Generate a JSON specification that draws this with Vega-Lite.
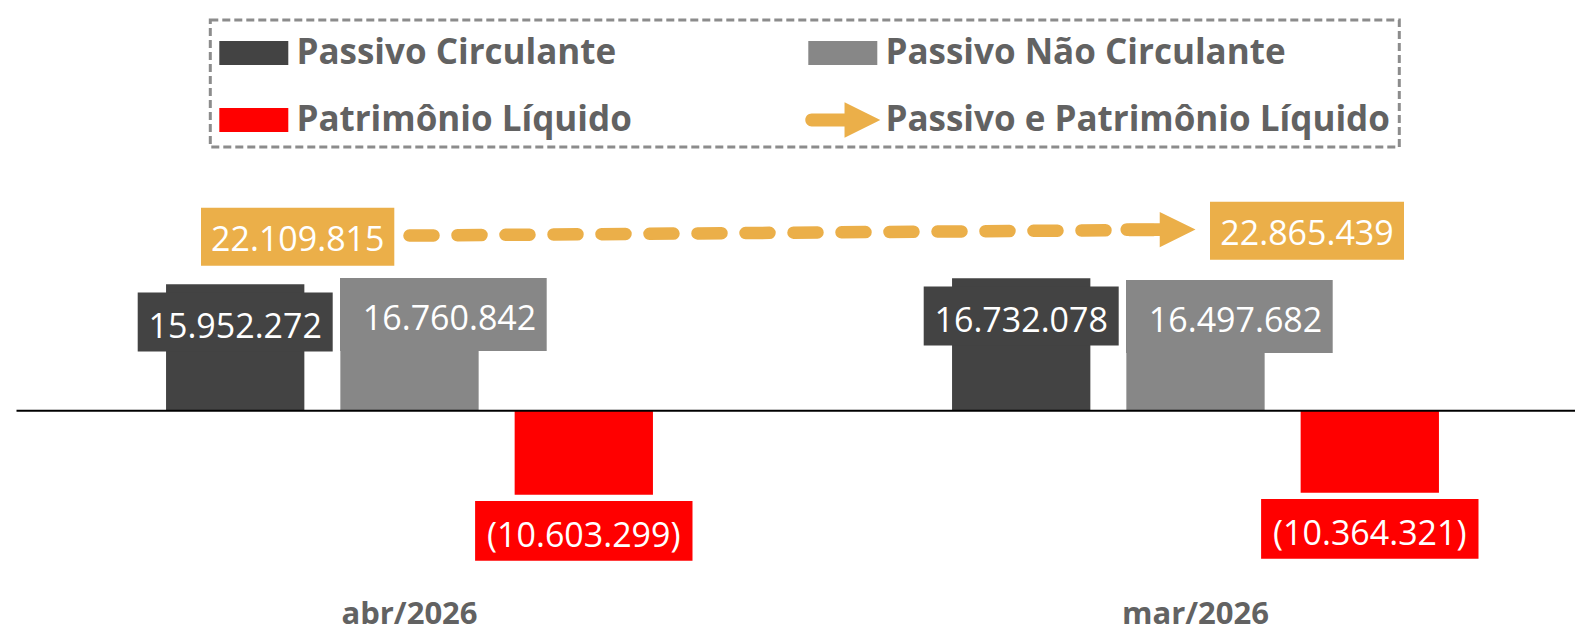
{
  "$schema": "https://vega.github.io/schema/vega-lite/v6.json",
  "width": 1558.5,
  "height": 590,
  "autosize": {"type": "none"},
  "padding": {"left": 16.5, "top": 0, "right": 0, "bottom": 37},
  "background": "white",
  "config": {
    "view": {"stroke": null},
    "locale": {"number": {"decimal": ",", "thousands": ".", "grouping": [3], "currency": ["R$", ""]}},
    "legend": {
      "orient": "none",
      "direction": "horizontal",
      "legendX": 193.8,
      "legendY": 20,
      "columns": 2,
      "columnPadding": 172,
      "rowPadding": 25,
      "padding": 9,
      "symbolSize": 2304,
      "symbolOffset": 10.5,
      "symbolStrokeWidth": 0,
      "symbolOpacity": 1,
      "labelFont": "Open Sans",
      "labelFontSize": 35,
      "labelFontWeight": "bold",
      "labelColor": "#626262",
      "labelOffset": 18.6,
      "labelLimit": 1000,
      "strokeColor": "#8C8C8C",
      "strokeDash": [8, 4],
      "strokeWidth": 3
    }
  },
  "data": {
    "values": [
      {"periodo": "abr/2026", "serie": "Passivo Circulante", "valor": 15952272},
      {"periodo": "abr/2026", "serie": "Passivo Não Circulante", "valor": 16760842},
      {"periodo": "abr/2026", "serie": "Patrimônio Líquido", "valor": -10603299},
      {"periodo": "abr/2026", "serie": "Passivo e Patrimônio Líquido", "valor": 22109815},
      {"periodo": "mar/2026", "serie": "Passivo Circulante", "valor": 16732078},
      {"periodo": "mar/2026", "serie": "Passivo Não Circulante", "valor": 16497682},
      {"periodo": "mar/2026", "serie": "Patrimônio Líquido", "valor": -10364321},
      {"periodo": "mar/2026", "serie": "Passivo e Patrimônio Líquido", "valor": 22865439}
    ]
  },
  "layer": [
    {
      "encoding": {
        "x": {
          "field": "periodo", "type": "nominal", "sort": ["abr/2026", "mar/2026"],
          "scale": {"domain": ["abr/2026", "mar/2026"], "range": [0, 1572], "paddingInner": 0, "paddingOuter": 0},
          "axis": {"title": null, "orient": "bottom", "domain": false, "ticks": false, "labelFont": "Open Sans", "labelFontSize": 31, "labelFontWeight": "bold", "labelColor": "#626262", "labelPadding": 9, "labelAngle": 0}
        },
        "y": {
          "field": "valor", "type": "quantitative", "stack": null,
          "scale": {"domain": [-22639000, 51856000], "nice": false, "zero": false},
          "axis": null
        }
      },
      "layer": [
        {
          "transform": [{"filter": "datum.serie !== 'Passivo e Patrimônio Líquido'"}],
          "mark": {"type": "bar"},
          "encoding": {
            "xOffset": {"field": "serie", "type": "nominal", "scale": {"domain": ["Passivo Circulante", "Passivo Não Circulante", "Patrimônio Líquido"], "paddingInner": 0.2065, "paddingOuter": 0.858}},
            "color": {
              "field": "serie", "type": "nominal",
              "scale": {"domain": ["Passivo Circulante", "Passivo Não Circulante", "Patrimônio Líquido", "Passivo e Patrimônio Líquido"], "range": ["#434343", "#878787", "#FF0000", "#EBAF49"]},
              "legend": {"title": null}
            }
          }
        },
        {
          "transform": [{"filter": "datum.serie === 'Passivo e Patrimônio Líquido'"}],
          "mark": {"type": "line", "color": "#EBAF49", "strokeWidth": 12.5, "strokeCap": "round", "strokeDash": [24,24,24,24,24,24,24,24,24,24,24,24,24,24,24,24,24,24,24,24,24,24,24,24,24,24,24,24,24,24,24,200]}
        },
        {
          "transform": [{"filter": "datum.serie === 'Passivo e Patrimônio Líquido' && datum.periodo === 'mar/2026'"}],
          "mark": {"type": "point", "filled": true, "opacity": 1, "size": 2304, "strokeWidth": 0, "xOffset": -37.5},
          "encoding": {
            "color": {
              "field": "serie", "type": "nominal",
              "scale": {"domain": ["Passivo Circulante", "Passivo Não Circulante", "Patrimônio Líquido", "Passivo e Patrimônio Líquido"], "range": ["#434343", "#878787", "#FF0000", "#EBAF49"]},
              "legend": {"title": null}
            },
            "shape": {
              "field": "serie", "type": "nominal",
              "scale": {"domain": ["Passivo Circulante", "Passivo Não Circulante", "Patrimônio Líquido", "Passivo e Patrimônio Líquido"], "range": ["M-1.4375,-0.5H1.4375V0.5H-1.4375Z", "M-1.4375,-0.5H1.4375V0.5H-1.4375Z", "M-1.4375,-0.5H1.4375V0.5H-1.4375Z", "M-1.297,-0.266H0.144V0.266H-1.297A0.266,0.266 0 0 1 -1.297,-0.266ZM0.072,-0.736L1.5625,0L0.072,0.736Z"]},
              "legend": {"title": null}
            }
          }
        },
        {
          "transform": [{"filter": "datum.serie === 'Passivo Circulante'"}],
          "mark": {"type": "point", "filled": true, "opacity": 1, "size": 40000, "strokeWidth": 0, "color": "#434343", "shape": "M-0.975,0.082H0.975V0.672H-0.975Z"},
          "encoding": {"xOffset": {"field": "serie", "type": "nominal"}}
        },
        {
          "transform": [{"filter": "datum.serie === 'Passivo Não Circulante'"}],
          "mark": {"type": "point", "filled": true, "opacity": 1, "size": 40000, "strokeWidth": 0, "color": "#878787", "shape": "M-0.695,0H1.372V0.73H-0.695Z"},
          "encoding": {"xOffset": {"field": "serie", "type": "nominal"}}
        },
        {
          "transform": [{"filter": "datum.serie === 'Patrimônio Líquido'"}],
          "mark": {"type": "point", "filled": true, "opacity": 1, "size": 40000, "strokeWidth": 0, "color": "#FF0000", "shape": "M-1.087,0.062H1.087V0.66H-1.087Z"},
          "encoding": {"xOffset": {"field": "serie", "type": "nominal"}}
        },
        {
          "transform": [{"filter": "datum.serie === 'Passivo e Patrimônio Líquido' && datum.periodo === 'abr/2026'"}],
          "mark": {"type": "point", "filled": true, "opacity": 1, "size": 40000, "strokeWidth": 0, "color": "#EBAF49", "shape": "M-2.085,-0.279H-0.152V0.302H-2.085Z"}
        },
        {
          "transform": [{"filter": "datum.serie === 'Passivo e Patrimônio Líquido' && datum.periodo === 'mar/2026'"}],
          "mark": {"type": "point", "filled": true, "opacity": 1, "size": 40000, "strokeWidth": 0, "color": "#EBAF49", "shape": "M0.145,-0.279H2.085V0.302H0.145Z"}
        },
        {
          "transform": [{"filter": "datum.serie === 'Passivo Circulante'"}],
          "mark": {"type": "text", "font": "Open Sans", "fontSize": 34, "color": "white", "align": "center", "baseline": "alphabetic", "dy": 53.5},
          "encoding": {"xOffset": {"field": "serie", "type": "nominal"}, "text": {"field": "valor", "type": "quantitative", "format": "(,.0f"}}
        },
        {
          "transform": [{"filter": "datum.serie === 'Passivo Não Circulante'"}],
          "mark": {"type": "text", "font": "Open Sans", "fontSize": 34, "color": "white", "align": "center", "baseline": "alphabetic", "dy": 52, "dx": 40},
          "encoding": {"xOffset": {"field": "serie", "type": "nominal"}, "text": {"field": "valor", "type": "quantitative", "format": "(,.0f"}}
        },
        {
          "transform": [{"filter": "datum.serie === 'Patrimônio Líquido'"}],
          "mark": {"type": "text", "font": "Open Sans", "fontSize": 34, "color": "white", "align": "center", "baseline": "alphabetic", "dy": 52},
          "encoding": {"xOffset": {"field": "serie", "type": "nominal"}, "text": {"field": "valor", "type": "quantitative", "format": "(,.0f"}}
        },
        {
          "transform": [{"filter": "datum.serie === 'Passivo e Patrimônio Líquido' && datum.periodo === 'abr/2026'"}],
          "mark": {"type": "text", "font": "Open Sans", "fontSize": 34, "color": "white", "align": "center", "baseline": "alphabetic", "dy": 15, "dx": -111.7},
          "encoding": {"text": {"field": "valor", "type": "quantitative", "format": "(,.0f"}}
        },
        {
          "transform": [{"filter": "datum.serie === 'Passivo e Patrimônio Líquido' && datum.periodo === 'mar/2026'"}],
          "mark": {"type": "text", "font": "Open Sans", "fontSize": 34, "color": "white", "align": "center", "baseline": "alphabetic", "dy": 15, "dx": 111.5},
          "encoding": {"text": {"field": "valor", "type": "quantitative", "format": "(,.0f"}}
        }
      ]
    },
    {
      "data": {"values": [{}]},
      "mark": {"type": "rule", "color": "black", "strokeWidth": 2},
      "encoding": {"y": {"datum": 0, "type": "quantitative"}}
    }
  ]
}
